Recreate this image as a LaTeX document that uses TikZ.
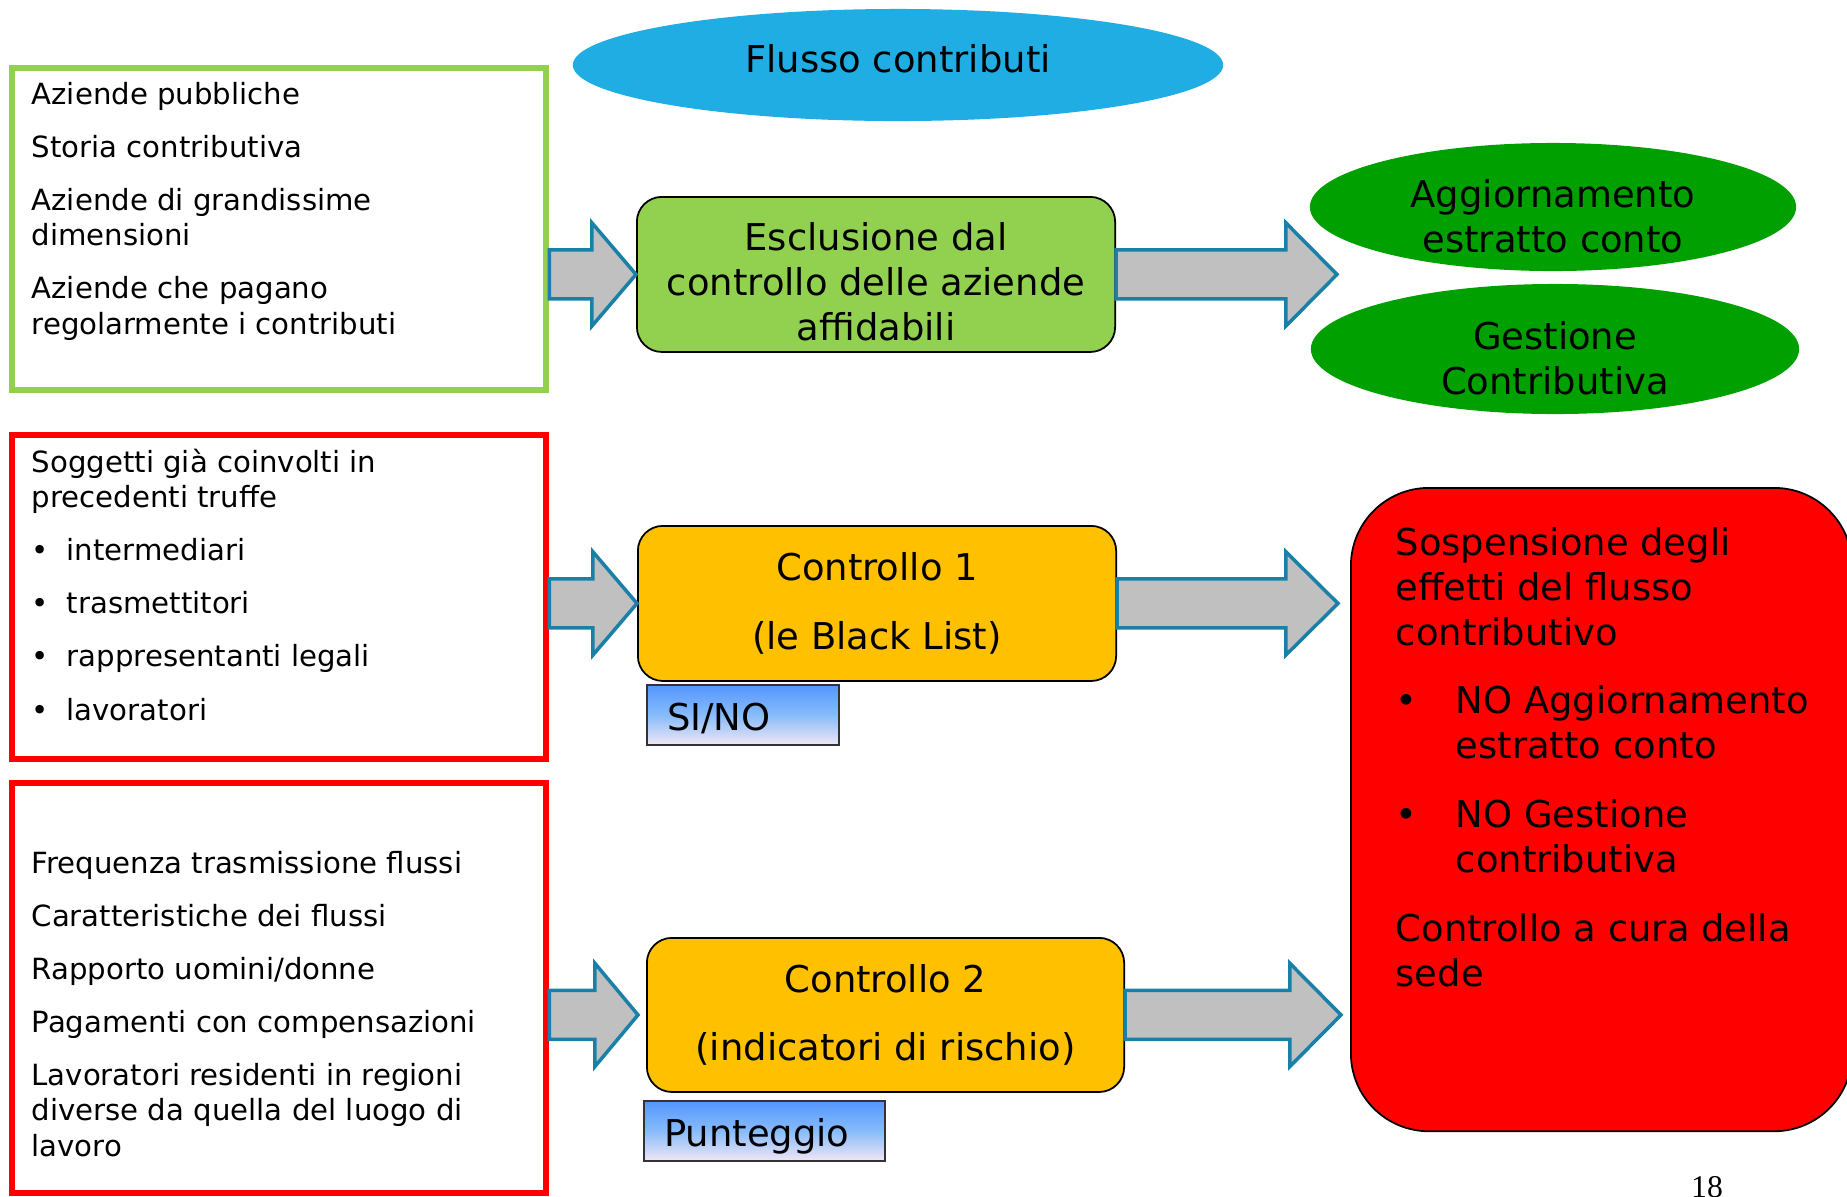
\documentclass[tikz,border=0pt]{standalone}
\usepackage{fontspec}
\setmainfont{DejaVu Sans}
\newfontfamily\numfont{Liberation Serif}
\usetikzlibrary{shapes.geometric,calc}

\definecolor{titleblue}{RGB}{31,173,228}
\definecolor{lightgreen}{RGB}{146,208,80}
\definecolor{darkgreen}{RGB}{0,160,0}
\definecolor{boxorange}{RGB}{255,192,0}
\definecolor{arrowgray}{RGB}{192,192,192}
\definecolor{arrowblue}{RGB}{26,128,168}
\definecolor{tagtop}{RGB}{85,150,255}
\definecolor{tagmid}{RGB}{135,188,250}
\definecolor{tagbottom}{RGB}{242,230,245}

\tikzset{
  smalltxt/.style={font=\fontsize{8.3}{10}\selectfont, inner sep=0pt, align=left, anchor=base west},
  bigtxt/.style={font=\fontsize{10.5}{12.8}\selectfont, inner sep=0pt, align=center},
  frame/.style={draw=#1, line width=1.7pt, fill=white, anchor=north west, minimum width=5.34cm},
  stepbox/.style={draw=black, line width=0.5pt, fill=#1, rounded corners=0.25cm,
    anchor=north west, minimum width=4.78cm, minimum height=1.55cm, align=center,
    font=\fontsize{10.5}{12.8}\selectfont},
  tagbox/.style={draw=black!80, line width=0.6pt, top color=tagtop, bottom color=tagbottom,
    middle color=tagmid, anchor=north west, minimum height=0.6cm, inner xsep=0.2cm,
    text height=0.85em, text depth=0pt, align=left, font=\fontsize{10.5}{12.8}\selectfont},
  oval/.style={ellipse, fill=#1, inner sep=0pt},
  fatarrow/.style={draw=arrowblue, fill=arrowgray, line width=1pt, line join=miter},
}

% block arrow: tail, tip, head length
\newcommand{\blockarrow}[3]{%
  \draw[fatarrow] let \p1=(#1), \p2=(#2) in
    (\x1,\y2+0.245cm) -- (\x2-#3,\y2+0.245cm) -- (\x2-#3,\y2+0.515cm) -- (\x2,\y2)
    -- (\x2-#3,\y2-0.515cm) -- (\x2-#3,\y2-0.245cm) -- (\x1,\y2-0.245cm) -- cycle;}

\begin{document}
\begin{tikzpicture}[x=0.01cm,y=-0.01cm]
\useasboundingbox (0,0) rectangle (1847,1196);

% title
\node[oval=titleblue, minimum width=6.5cm, minimum height=1.12cm] (title) at (898,65) {};
\node[bigtxt] (titletxt) at ([yshift=0.06cm]title.center) {Flusso contributi};

% left frames
\node[frame=lightgreen, minimum height=3.22cm] (grn) at (9,65) {};
\node[frame=red, minimum height=3.24cm] (redA) at (9,432) {};
\node[frame=red, minimum height=4.1cm] (redB) at (9,780) {};

\node[smalltxt] (grntxt) at (31,334) {Aziende pubbliche\\[5.1pt]Storia contributiva\\[5.1pt]Aziende di grandissime\\dimensioni\\[5.1pt]Aziende che pagano\\regolarmente i contributi};
\node[smalltxt] (redAtxt) at (31,720) {Soggetti già coinvolti in\\precedenti truffe\\[5.1pt]\makebox[0.35cm][l]{•}intermediari\\[5.1pt]\makebox[0.35cm][l]{•}trasmettitori\\[5.1pt]\makebox[0.35cm][l]{•}rappresentanti legali\\[5.1pt]\makebox[0.35cm][l]{•}lavoratori};
\node[smalltxt] (redBtxt) at (31,1156) {Frequenza trasmissione flussi\\[5.1pt]Caratteristiche dei flussi\\[5.1pt]Rapporto uomini/donne\\[5.1pt]Pagamenti con compensazioni\\[5.1pt]Lavoratori residenti in regioni\\diverse da quella del luogo di\\lavoro};

% middle boxes
\node[stepbox=lightgreen] (esc) at (636,196) {};
\node[bigtxt] (esctxt) at ([yshift=-0.07cm]esc.center) {Esclusione dal\\controllo delle aziende\\affidabili};
\node[stepbox=boxorange] (ctrlA) at (637,525) {Controllo 1\\[6.8pt](le Black List)};
\node[stepbox=boxorange, minimum width=4.77cm, minimum height=1.54cm] (ctrlB) at (646,937) {Controllo 2\\[6.4pt](indicatori di rischio)};
\node[tagbox, text width=1.52cm] (sino) at (646,684) {SI/NO};
\node[tagbox, text width=2.01cm] (punti) at (643,1100) {Punteggio};

% right side
\node[oval=darkgreen, minimum width=4.86cm, minimum height=1.28cm] (aggiorn) at (1553,207) {};
\node[bigtxt] (aggiorntxt) at ([yshift=-0.09cm]aggiorn.center) {Aggiornamento\\estratto conto};
\node[oval=darkgreen, minimum width=4.88cm, minimum height=1.30cm] (gestione) at (1555,349) {};
\node[bigtxt] (gestionetxt) at ([yshift=-0.09cm]gestione.center) {Gestione\\Contributiva};
\node[draw=black, line width=0.5pt, fill=red, rounded corners=0.78cm, anchor=north west,
  minimum width=5.01cm, minimum height=6.43cm] (susp) at (1350,487) {};
\node[bigtxt, align=left, anchor=base west] (susptxt) at (1395,986) {Sospensione degli\\effetti del flusso\\contributivo\\[6.7pt]\makebox[0.6cm][l]{•}NO Aggiornamento\\\hspace*{0.6cm}estratto conto\\[6.7pt]\makebox[0.6cm][l]{•}NO Gestione\\\hspace*{0.6cm}contributiva\\[6.7pt]Controllo a cura della\\sede};

% arrows
\coordinate (tipA) at (1337,0);
\coordinate (tipB) at (1338,0);
\coordinate (tipC) at (1341,0);
\coordinate (tipD) at (638,0);
\blockarrow{grn.east |- esc.west}{esc.west}{0.44cm}
\blockarrow{esc.east}{tipA |- esc.east}{0.51cm}
\blockarrow{redA.east |- ctrlA.west}{ctrlA.west}{0.44cm}
\blockarrow{ctrlA.east}{tipB |- ctrlA.east}{0.52cm}
\blockarrow{redB.east |- ctrlB.west}{tipD |- ctrlB.west}{0.43cm}
\blockarrow{ctrlB.east}{tipC |- ctrlB.east}{0.51cm}

\node[font=\numfont\fontsize{9}{10}\selectfont, inner sep=0pt, anchor=base] (pagenum) at (1707,1197) {18};
\end{tikzpicture}
\end{document}
